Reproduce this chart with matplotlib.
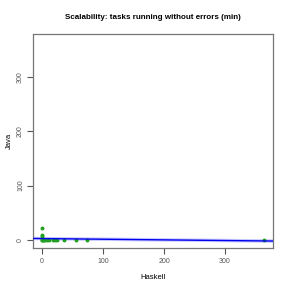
import matplotlib
matplotlib.use("Agg")
import matplotlib.pyplot as plt
import numpy as np

plt.rcParams['font.family'] = ['Liberation Sans', 'DejaVu Sans']

title = "Scalability: tasks running without errors (min)"
xlabel = "Haskell"
ylabel = "Java"
haskell = [0, 0, 0, 0, 0, 1, 2, 3, 5, 8, 12, 18, 22, 25, 36, 56, 74, 364]
java = [22, 10, 7, 3, 0, 0, 0, 0, 0, 0, 0, 0, 0, 0, 0, 0, 0, 0]
ticks = [0, 100, 200, 300]

fig = plt.figure(figsize=(2.91, 2.91), dpi=100)
ax = fig.add_axes([33/291, 1-248/291, 240/291, 214/291])

x = np.array(haskell, float)
y = np.array(java, float)
lo = min(x.min(), y.min()); hi = max(x.max(), y.max())
pad = 0.04 * (hi - lo)
lim = (lo - pad, hi + pad)

ax.scatter(x, y, s=8, color='#22a022', zorder=3, linewidths=0)
slope, intercept = np.polyfit(x, y, 1)
xs = np.array(lim)
ax.plot(xs, intercept + slope * xs, color='#9090ff', lw=2.5, alpha=0.5, zorder=2)
ax.plot(xs, intercept + slope * xs, color='#0000ee', lw=1.0, zorder=4)

ax.set_xlim(lim); ax.set_ylim(lim)
ax.set_xticks(ticks); ax.set_yticks(ticks)
ax.tick_params(labelsize=5, colors='#555555', length=4, width=0.8)
ax.tick_params(axis='x', pad=3)
ax.tick_params(axis='y', pad=2.5)
for lab in ax.get_yticklabels():
    lab.set_rotation(90); lab.set_va('center')
for sp in ax.spines.values():
    sp.set_color('#777777'); sp.set_linewidth(0.9)
ax.set_title(title, fontsize=5.8, fontweight='bold', pad=11)
ax.set_xlabel(xlabel, fontsize=5.5, labelpad=7)
ax.set_ylabel(ylabel, fontsize=5.5, labelpad=3)

fig.savefig("out.png", dpi=100)
